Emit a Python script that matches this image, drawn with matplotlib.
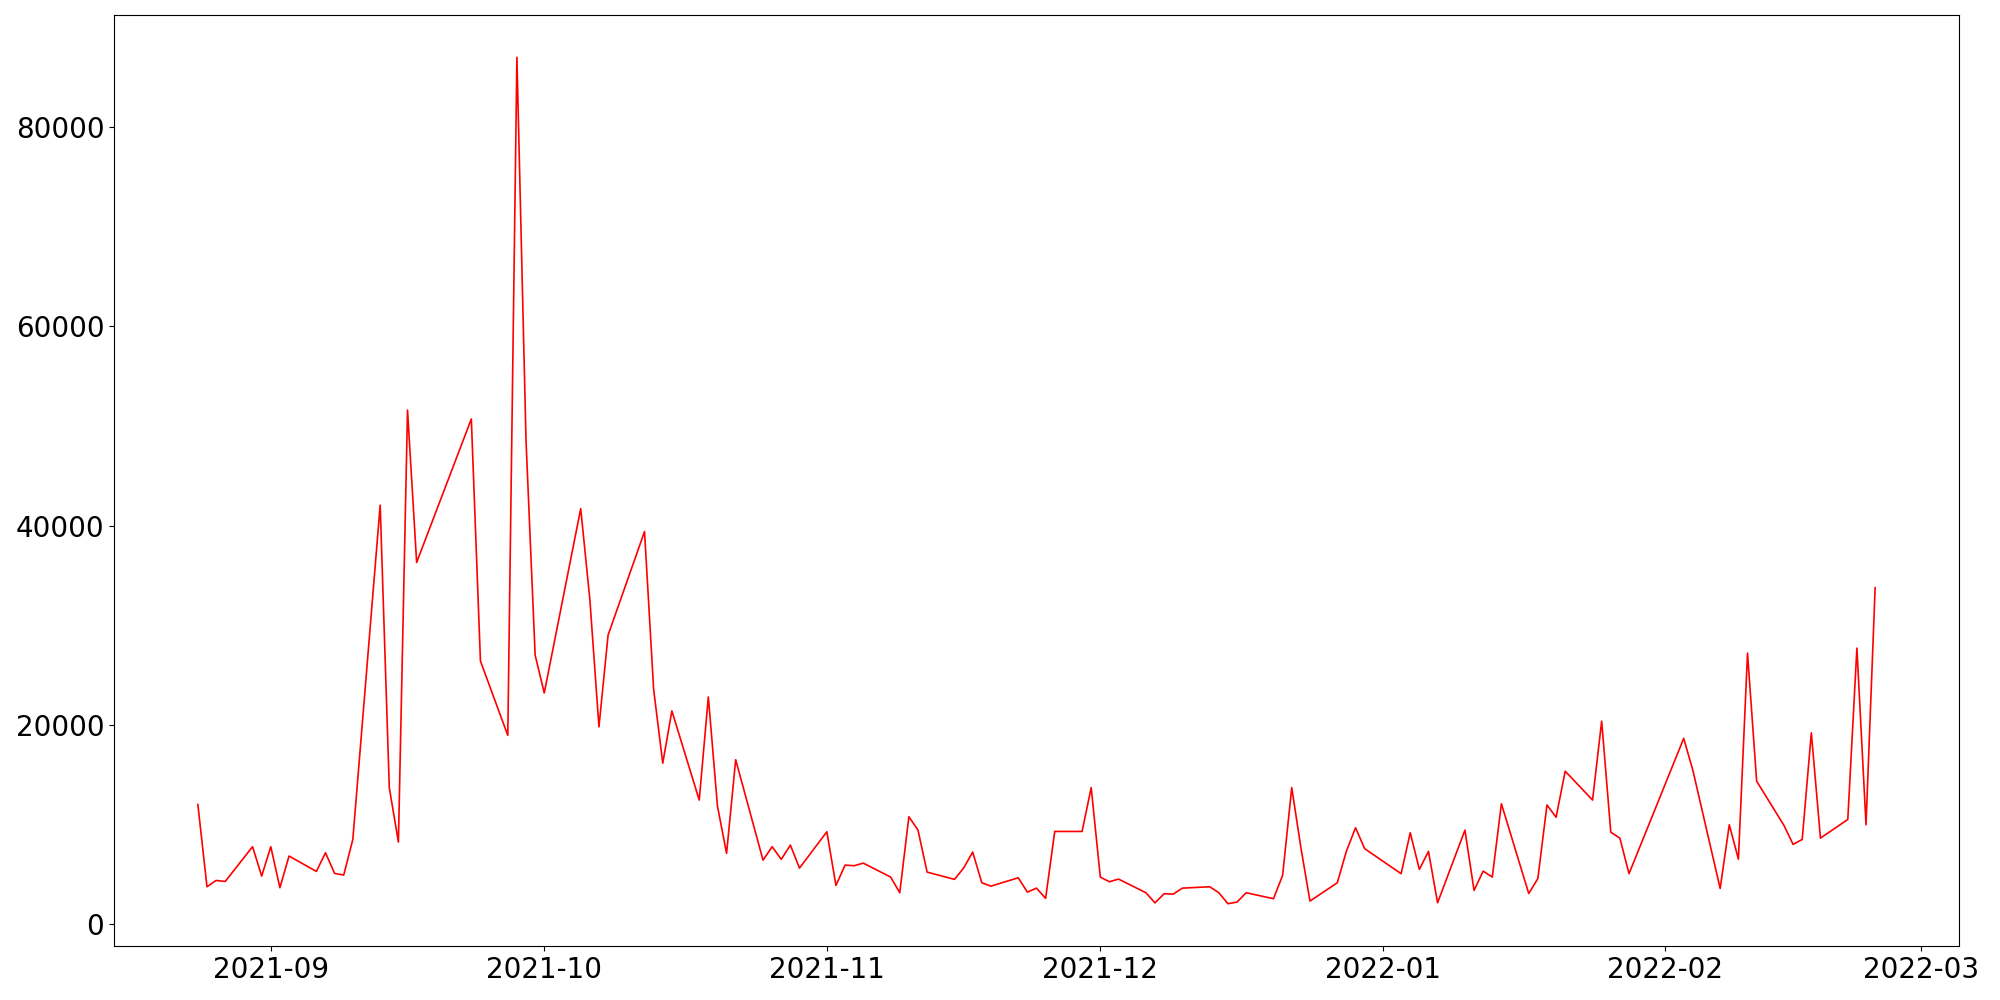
import matplotlib
matplotlib.use("Agg")
import matplotlib.pyplot as plt
import pandas as pd

# trading days (gaps are just missing rows, the line bridges them)
dates = [
    "2021-08-24", "2021-08-25", "2021-08-26", "2021-08-27", "2021-08-30", "2021-08-31",
    "2021-09-01", "2021-09-02", "2021-09-03", "2021-09-06", "2021-09-07", "2021-09-08",
    "2021-09-09", "2021-09-10", "2021-09-13", "2021-09-14", "2021-09-15", "2021-09-16",
    "2021-09-17", "2021-09-23", "2021-09-24", "2021-09-27", "2021-09-28", "2021-09-29",
    "2021-09-30", "2021-10-01", "2021-10-05", "2021-10-06", "2021-10-07", "2021-10-08",
    "2021-10-12", "2021-10-13", "2021-10-14", "2021-10-15", "2021-10-18", "2021-10-19",
    "2021-10-20", "2021-10-21", "2021-10-22", "2021-10-25", "2021-10-26", "2021-10-27",
    "2021-10-28", "2021-10-29", "2021-11-01", "2021-11-02", "2021-11-03", "2021-11-04",
    "2021-11-05", "2021-11-08", "2021-11-09", "2021-11-10", "2021-11-11", "2021-11-12",
    "2021-11-15", "2021-11-16", "2021-11-17", "2021-11-18", "2021-11-19", "2021-11-22",
    "2021-11-23", "2021-11-24", "2021-11-25", "2021-11-26", "2021-11-29", "2021-11-30",
    "2021-12-01", "2021-12-02", "2021-12-03", "2021-12-06", "2021-12-07", "2021-12-08",
    "2021-12-09", "2021-12-10", "2021-12-13", "2021-12-14", "2021-12-15", "2021-12-16",
    "2021-12-17", "2021-12-20", "2021-12-21", "2021-12-22", "2021-12-23", "2021-12-24",
    "2021-12-27", "2021-12-28", "2021-12-29", "2021-12-30", "2022-01-03", "2022-01-04",
    "2022-01-05", "2022-01-06", "2022-01-07", "2022-01-10", "2022-01-11", "2022-01-12",
    "2022-01-13", "2022-01-14", "2022-01-17", "2022-01-18", "2022-01-19", "2022-01-20",
    "2022-01-21", "2022-01-24", "2022-01-25", "2022-01-26", "2022-01-27", "2022-01-28",
    "2022-02-03", "2022-02-04", "2022-02-07", "2022-02-08", "2022-02-09", "2022-02-10",
    "2022-02-11", "2022-02-14", "2022-02-15", "2022-02-16", "2022-02-17", "2022-02-18",
    "2022-02-21", "2022-02-22", "2022-02-23", "2022-02-24",
]

values = [
    12000, 3750, 4380, 4280, 7770, 4820,
    7770, 3650, 6830, 5290, 7160, 5090,
    4920, 8500, 42050, 13700, 8230, 51600,
    36300, 50700, 26400, 18940, 87000, 48500,
    27000, 23200, 41700, 32600, 19800, 29000,
    39400, 23550, 16150, 21400, 12450, 22800,
    11850, 7100, 16500, 6420, 7770, 6500,
    7930, 5620, 9270, 3880, 5920, 5860,
    6120, 4720, 3150, 10780, 9430, 5220,
    4490, 5620, 7230, 4150, 3810, 4650,
    3210, 3610, 2580, 9300, 9300, 13700,
    4720, 4250, 4520, 3150, 2130, 3050,
    3010, 3610, 3750, 3150, 2050, 2210,
    3150, 2550, 4890, 13700, 7700, 2310,
    4150, 7330, 9670, 7570, 5060, 9170,
    5490, 7300, 2140, 9430, 3380, 5320,
    4720, 12080, 3070, 4570, 11960, 10720,
    15350, 12450, 20370, 9230, 8620, 5060,
    18640, 15450, 3580, 9970, 6520, 27200,
    14350, 9900, 8000, 8500, 19200, 8630,
    10500, 27700, 9970, 33760,
]

x = pd.to_datetime(dates)

fig, ax = plt.subplots(figsize=(20, 10), dpi=100)
ax.plot(x, values, color="red", linewidth=1.2)

ax.tick_params(axis="both", labelsize=20)

plt.subplots_adjust(left=0.057, right=0.9795, top=0.985, bottom=0.054)
plt.savefig("out.png", dpi=100)
plt.close(fig)
